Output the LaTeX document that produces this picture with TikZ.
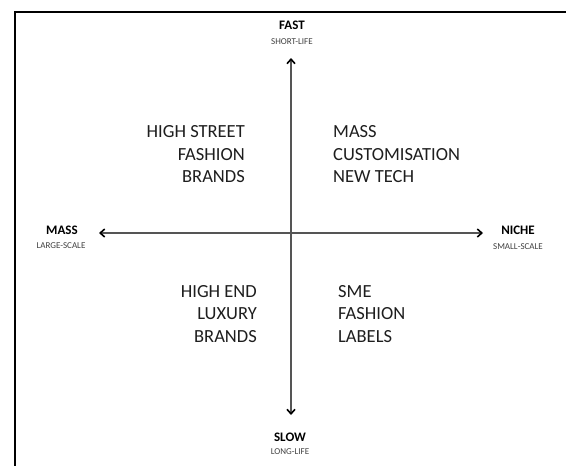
\documentclass[tikz,border=0pt]{standalone}
\usepackage{fontspec}
\setmainfont{Carlito}
\usetikzlibrary{arrows.meta}
\definecolor{axisgray}{HTML}{555555}
\definecolor{txt}{HTML}{1E1E1E}
\begin{document}
\begin{tikzpicture}[x=1pt,y=-1pt,
  axis/.style={draw=axisgray,line width=1.2pt,
    {Straight Barb[length=4.5pt,width=8pt,line width=1.6pt,color=black]}-{Straight Barb[length=4.5pt,width=8pt,line width=1.6pt,color=black]}},
  head/.style={inner sep=0pt,font=\fontsize{13}{15}\selectfont\bfseries,text=black},
  sub/.style={inner sep=0pt,font=\fontsize{9}{11}\selectfont,text=txt!85},
  quad/.style={inner sep=0pt,font=\fontsize{18.5}{22.5}\selectfont,text=txt}]
\useasboundingbox (0,0) rectangle (566,466);
\fill[white] (0,0) rectangle (566,466);
\draw[line width=2pt,black] (566,12) -- (15,12) -- (15,466);
% axes
\coordinate (top) at (291,58);
\coordinate (bot) at (291,415);
\coordinate (lft) at (99,233);
\coordinate (rgt) at (483,233);
\draw[axis] (bot) -- (top);
\draw[axis] (lft) -- (rgt);
% axis labels
\node[head] (fast) at (292,25) {FAST};
\node[sub] (fastsub) at (292,42) {SHORT-LIFE};
\node[head] (slow) at (290,437) {SLOW};
\node[sub] (slowsub) at (290,452) {LONG-LIFE};
\node[head] (mass) at (62,230) {MASS};
\node[sub] (masssub) at (61,246) {LARGE-SCALE};
\node[head] (niche) at (518,230) {NICHE};
\node[sub] (nichesub) at (518,247) {SMALL-SCALE};
% quadrants
\node[quad,align=right,anchor=east] (ul) at (245,154.5) {HIGH STREET\\FASHION\\BRANDS};
\node[quad,align=left,anchor=west] (ur) at (333,154.5) {MASS\\CUSTOMISATION\\NEW TECH};
\node[quad,align=right,anchor=east] (ll) at (257,314) {HIGH END\\LUXURY\\BRANDS};
\node[quad,align=left,anchor=west] (lr) at (338,314) {SME\\FASHION\\LABELS};
\end{tikzpicture}
\end{document}
